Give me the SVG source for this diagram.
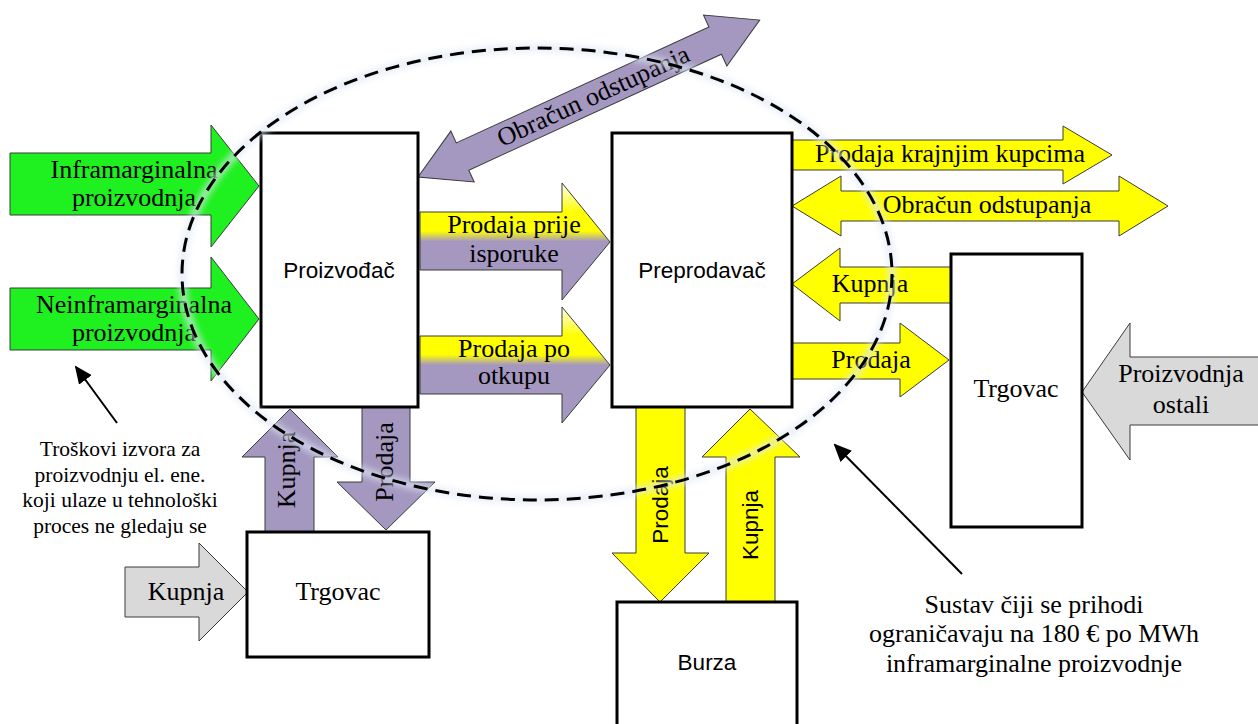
<svg xmlns="http://www.w3.org/2000/svg" width="1258" height="724" viewBox="0 0 1258 724">
<style>
.box{fill:#fff;stroke:#000;stroke-width:3}
.arr{stroke:#3a3a3a;stroke-width:1}
.g{fill:#1FF01F}
.p{fill:#A598C0}
.y{fill:#FFFF00}
.gr{fill:#D9D9D9}
.mix{fill:url(#ypg)}
.t{font-family:"Liberation Serif","Times New Roman",serif;font-size:26px;fill:#000;text-anchor:middle}
.ts{font-family:"Liberation Sans",Arial,sans-serif;font-size:22.5px;fill:#000;text-anchor:middle}
.tn{font-family:"Liberation Serif","Times New Roman",serif;font-size:21.5px;fill:#000;text-anchor:middle}
.ptr{stroke:#000;stroke-width:2;fill:none;marker-end:url(#ah)}
</style>
<defs>
<linearGradient id="ypg" x1="0" y1="0" x2="0" y2="1">
<stop offset="0" stop-color="#FFFFF0"/>
<stop offset="0.25" stop-color="#FFFF00"/>
<stop offset="0.41" stop-color="#FFFF00"/>
<stop offset="0.5" stop-color="#A598C0"/>
<stop offset="1" stop-color="#A598C0"/>
</linearGradient>
<marker id="ah" markerWidth="18" markerHeight="16" refX="16" refY="8" orient="auto" markerUnits="userSpaceOnUse" viewBox="0 0 18 16">
<path d="M0,0 L18,8 L0,16 Z" fill="#000"/>
</marker>
<filter id="blur" x="-10%" y="-10%" width="120%" height="120%"><feGaussianBlur stdDeviation="3"/></filter>
</defs>
<g id="connectors">
<path class="arr g" d="M10,153 H211 V125 L259,186 L211,247 V215 H10 Z"/>
<path class="arr g" d="M10,288 H211 V257 L259,319 L211,381 V350 H10 Z"/>
<path class="arr mix" d="M420,212 H562 V183 L610,242 L562,300 V270 H420 Z"/>
<path class="arr mix" d="M420,336 H562 V307 L610,365 L562,423 V394 H420 Z"/>
<g transform="translate(418,177) rotate(-24.66)">
<path class="arr p" d="M0,0 L49,-28 L49,-15 L327,-15 L327,-28 L376,0 L327,28 L327,15 L49,15 L49,28 Z"/>
<text class="t" x="193" y="8">Obračun odstupanja</text>
</g>
<path class="arr y" d="M790,140 H1063 V126 L1112,155 L1063,184 V170 H790 Z"/>
<path class="arr y" d="M792,206 L841,176 V191 H1119 V176 L1168,206 L1119,236 V221 H841 V236 Z"/>
<path class="arr y" d="M792,284 L840,248 V267 H951 V303 H840 V321 Z"/>
<path class="arr y" d="M792,343 H900 V323 L949,360 L900,397 V379 H792 Z"/>
<path class="arr gr" d="M1082,392 L1130,323 V357 H1262 V425 H1130 V460 Z"/>
<path class="arr gr" d="M125,567 H199 V543 L248,592 L199,641 V617 H125 Z"/>
<path class="arr p" d="M290,409 L338,457 H314 V532 H265 V457 H242 Z"/>
<path class="arr p" d="M362,407 H410 V482 H435 L386,530 L337,482 H362 Z"/>
<path class="arr y" d="M636,407 H685 V553 H709 L660,602 L612,553 H636 Z"/>
<path class="arr y" d="M750,409 L800,457 H775 V602 H726 V457 H702 Z"/>
<text class="t" x="134" y="178">Inframarginalna</text>
<text class="t" x="134" y="206">proizvodnja</text>
<text class="t" x="134" y="313">Neinframarginalna</text>
<text class="t" x="134" y="341">proizvodnja</text>
<text class="t" x="514" y="233">Prodaja prije</text>
<text class="t" x="514" y="262">isporuke</text>
<text class="t" x="514" y="357">Prodaja po</text>
<text class="t" x="514" y="384">otkupu</text>
<text class="t" x="950" y="162">Prodaja krajnjim kupcima</text>
<text class="t" x="987" y="213">Obračun odstupanja</text>
<text class="t" x="870" y="292">Kupnja</text>
<text class="t" x="871" y="368">Prodaja</text>
<text class="t" x="1181" y="382">Proizvodnja</text>
<text class="t" x="1181" y="413">ostali</text>
<text class="t" x="186" y="600">Kupnja</text>
<text class="t" transform="translate(289,470) rotate(-90)" y="6">Kupnja</text>
<text class="t" transform="translate(385,462) rotate(-90)" y="8">Prodaja</text>
<text class="ts" transform="translate(660,505) rotate(-90)" y="8">Prodaja</text>
<text class="ts" transform="translate(750,525) rotate(-90)" y="8">Kupnja</text>
</g>
<g id="proizvodjac"><rect class="box" x="261" y="133" width="157" height="274"/><text class="ts" x="339" y="278">Proizvođač</text></g>
<g id="preprodavac"><rect class="box" x="612" y="133" width="180" height="274"/><text class="ts" x="702" y="278">Preprodavač</text></g>
<g id="trgovac-desno"><rect class="box" x="951" y="254" width="131" height="273"/><text class="t" x="1016" y="397">Trgovac</text></g>
<g id="trgovac-dolje"><rect class="box" x="247" y="532" width="182" height="125"/><text class="t" x="338" y="600">Trgovac</text></g>
<g id="burza"><rect class="box" x="617" y="602" width="180" height="126"/><text class="ts" x="707" y="670">Burza</text></g>
<g id="sustav">
<ellipse cx="537" cy="274" rx="355" ry="226" fill="none" stroke="#dfe8f6" stroke-width="8" filter="url(#blur)" opacity="0.7"/>
<ellipse cx="537" cy="274" rx="355" ry="226" fill="none" stroke="#000" stroke-width="3" stroke-dasharray="14 8"/>
</g>
<g id="napomene">
<line class="ptr" x1="117" y1="423" x2="76" y2="367"/>
<text class="tn" x="120" y="456">Troškovi izvora za</text>
<text class="tn" x="120" y="482">proizvodnju el. ene.</text>
<text class="tn" x="120" y="507">koji ulaze u tehnološki</text>
<text class="tn" x="120" y="533">proces ne gledaju se</text>
<line class="ptr" x1="962" y1="574" x2="835" y2="445"/>
<text class="t" x="1034" y="613">Sustav čiji se prihodi</text>
<text class="t" x="1034" y="642">ograničavaju na 180 € po MWh</text>
<text class="t" x="1034" y="672">inframarginalne proizvodnje</text>
</g>
</svg>
